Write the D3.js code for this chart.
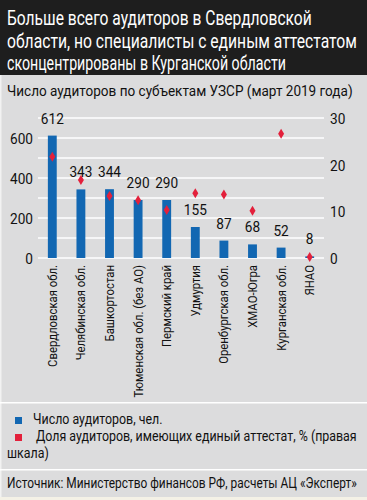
<!DOCTYPE html>
<html><head><meta charset="utf-8">
<script src="https://cdn.jsdelivr.net/npm/d3@7"></script>
<style>
html,body{margin:0;padding:0;background:#fff;}
svg{display:block;}
text{font-family:Roboto,"Noto Sans",sans-serif;}
</style></head>
<body>
<script>
const categories = ["Свердловская обл.","Челябинская обл.","Башкортостан","Тюменская обл. (без АО)","Пермский край","Удмуртия","Оренбургская обл.","ХМАО-Югра","Курганская обл.","ЯНАО"];
const auditors = [612,343,344,290,290,155,87,68,52,8];
const sharePct = [21.7,16.7,13.3,12.4,10.3,13.9,13.6,10.1,26.6,0.2];
const leftTicks = [0,200,400,600];
const leftGrid = [0,100,200,300,400,500,600,700];
const rightTicks = [0,10,20,30];
const titleLines = ["Больше всего аудиторов в Свердловской","области, но специалисты с единым аттестатом","сконцентрированы в Курганской области"];
const subtitle = "Число аудиторов по субъектам УЗСР (март 2019 года)";
const legendItems = ["Число аудиторов, чел.","Доля аудиторов, имеющих единый аттестат, % (правая"];
const legendWrap = "шкала)";
const source = "Источник: Министерство финансов РФ, расчеты АЦ «Эксперт»";

const W=367,H=500;
const svg=d3.select("body").append("svg").attr("width",W).attr("height",H);
svg.append("rect").attr("width",W).attr("height",H).attr("fill","#dcdcdd");
svg.append("rect").attr("width",W).attr("height",75).attr("fill","#1e1e1e");
svg.append("rect").attr("x",0).attr("y",75).attr("width",1.5).attr("height",H-75).attr("fill","#f2f2f2");
svg.append("rect").attr("x",0).attr("y",497).attr("width",W).attr("height",3).attr("fill","#f4f1e6");

// horizontal condensing helper: move x/y into transform and scale x
function squeeze(sel,k){
  sel.each(function(){
    const t=d3.select(this);
    const x=+t.attr("x")||0, y=+t.attr("y")||0;
    const tr=t.attr("transform")||"";
    t.attr("x",null).attr("y",null).attr("transform",`${tr} translate(${x},${y}) scale(${k},1)`);
  });
}
function fitTo(sel,w){
  sel.each(function(){ const len=this.getComputedTextLength(); squeeze(d3.select(this),w/len); });
}
function kFor(str,size,w){
  const t=svg.append("text").attr("font-size",size).text(str);
  const k=w/t.node().getComputedTextLength(); t.remove(); return k;
}

const titleW=[305,350,279];
svg.selectAll("text.title").data(titleLines).join("text").attr("class","title")
  .attr("x",7).attr("y",(d,i)=>25+i*22.5).attr("fill","#fff")
  .attr("font-size",19.5).text(d=>d)
  .each(function(d,i){ fitTo(d3.select(this),titleW[i]); });
fitTo(svg.append("text").attr("x",7).attr("y",96).attr("font-size",14.5).attr("fill","#111").text(subtitle),346);

const x=d3.scaleBand().domain(categories).range([38,324]).paddingInner(0.69).paddingOuter(0.345);
const yL=d3.scaleLinear().domain([0,700]).range([258,118]);
const yR=d3.scaleLinear().domain([0,30]).range([258,118]);

svg.append("g").selectAll("line").data(leftGrid).join("line")
  .attr("x1",38).attr("x2",324).attr("y1",d=>yL(d)).attr("y2",d=>yL(d))
  .attr("stroke","#fff").attr("stroke-width",1.3);

const kNum=kFor("612",15,23);

const axL=d3.axisLeft(yL).tickValues(leftTicks).tickSize(0).tickPadding(0);
const gL=svg.append("g").attr("transform","translate(33,0)").call(axL);
gL.select(".domain").remove();
gL.selectAll("text").attr("font-size",15).attr("fill","#111").attr("font-family",null).attr("dy","0.36em").call(squeeze,kNum);

const axR=d3.axisRight(yR).tickValues(rightTicks).tickSize(0).tickPadding(0);
const gR=svg.append("g").attr("transform","translate(330,0)").call(axR);
gR.select(".domain").remove();
gR.selectAll("text").attr("font-size",15).attr("fill","#111").attr("font-family",null).attr("dy","0.36em").call(squeeze,kNum);

svg.append("g").selectAll("rect").data(auditors).join("rect")
  .attr("x",(d,i)=>x(categories[i])).attr("width",x.bandwidth())
  .attr("y",d=>yL(d)).attr("height",d=>yL(0)-yL(d)).attr("fill","#1267b2");

svg.append("g").selectAll("text").data(auditors).join("text")
  .attr("x",(d,i)=>x(categories[i])+x.bandwidth()/2).attr("y",d=>yL(d)-12)
  .attr("text-anchor","middle").attr("font-size",15).attr("fill","#111").text(d=>d)
  .call(squeeze,kNum);

svg.append("g").selectAll("path").data(sharePct).join("path")
  .attr("transform",(d,i)=>`translate(${x(categories[i])+x.bandwidth()/2},${yR(d)})`)
  .attr("d","M0,-5L3,0L0,5L-3,0Z").attr("fill","#e3203b");

const kLab=kFor(categories[0],13,102);
svg.append("g").selectAll("text").data(categories).join("text")
  .attr("transform",(d)=>`translate(${x(d)+x.bandwidth()/2+4.5},265) rotate(-90)`)
  .attr("text-anchor","end").attr("font-size",13).attr("fill","#111").text(d=>d)
  .call(squeeze,kLab);

svg.append("rect").attr("x",0).attr("y",402).attr("width",W).attr("height",1.5).attr("fill","#fff");
svg.append("rect").attr("x",0).attr("y",469).attr("width",W).attr("height",1.5).attr("fill","#fff");

const kLeg=kFor(legendItems[1],14.5,321);
const legColors=["#1267b2","#e3203b"];
svg.append("g").selectAll("rect").data(legendItems).join("rect")
  .attr("x",15).attr("y",(d,i)=>417+i*17).attr("width",7).attr("height",7).attr("fill",(d,i)=>legColors[i]);
svg.append("g").selectAll("text").data(legendItems).join("text")
  .attr("x",(d,i)=>i?36:33).attr("y",(d,i)=>423.5+i*17).attr("font-size",14.5).attr("fill","#111").text(d=>d)
  .call(squeeze,kLeg);
svg.append("text").attr("x",7).attr("y",458).attr("font-size",14.5).attr("fill","#111").text(legendWrap).call(squeeze,kLeg);
fitTo(svg.append("text").attr("x",7).attr("y",488).attr("font-size",14.5).attr("fill","#111").text(source),350);
</script>
</body></html>
